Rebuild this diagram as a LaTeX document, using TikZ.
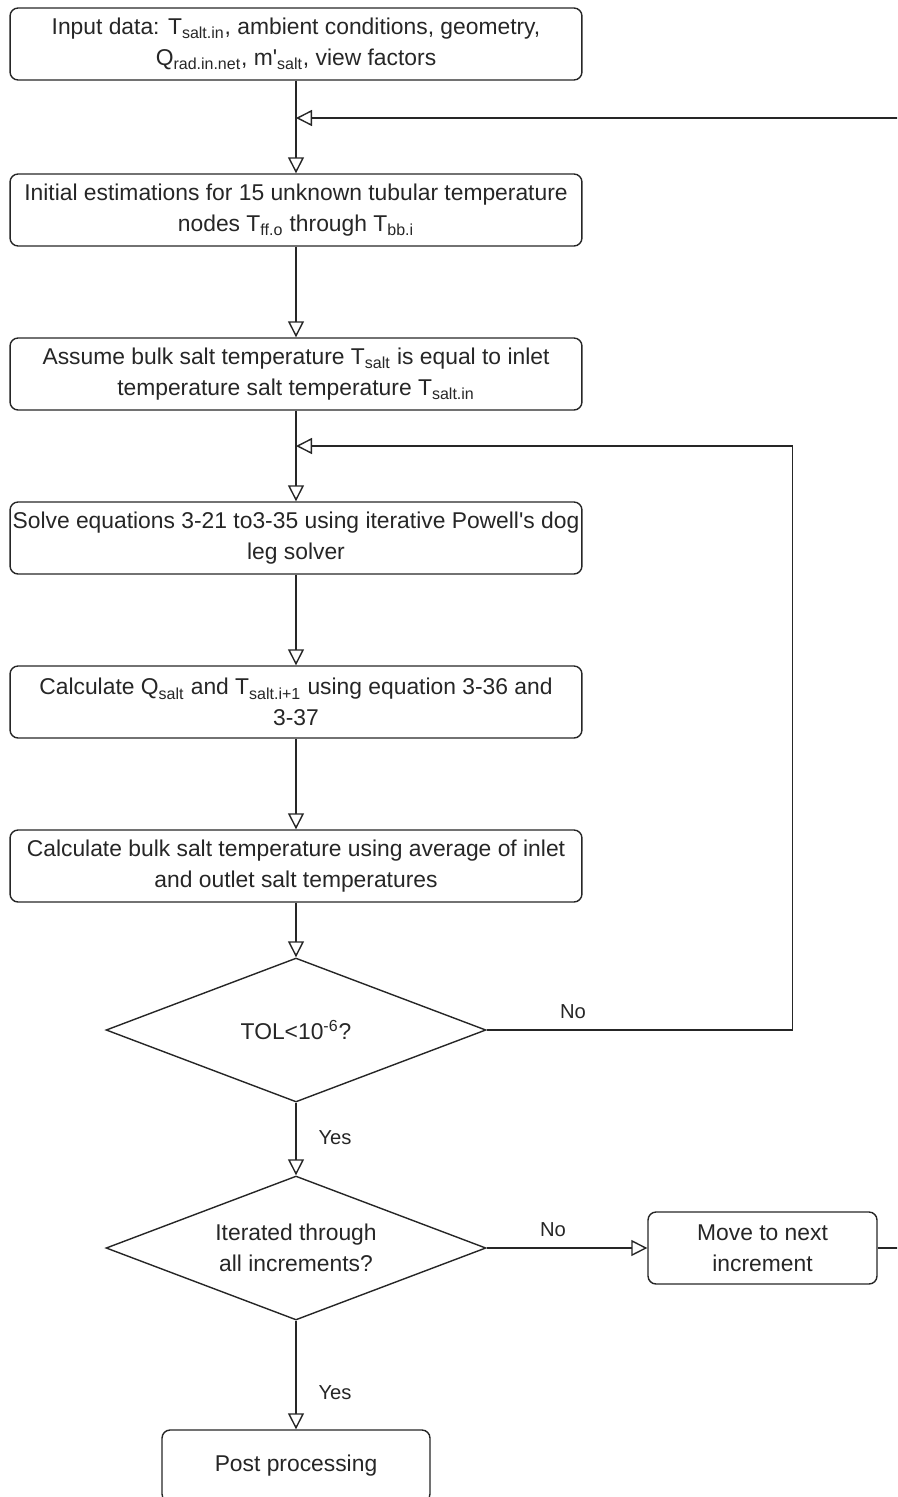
\documentclass[tikz,border=0pt]{standalone}
\usepackage{fontspec}
\setmainfont{Liberation Sans}
\usetikzlibrary{arrows.meta,shapes.geometric}

\begin{document}
\begin{tikzpicture}[x=0.02cm, y=-0.02cm,
	every node/.style={font=\fontsize{13}{17.6}\selectfont, text=black!85},
	box/.style={rectangle, rounded corners=0.16cm, draw=black!85, line width=0.8pt, minimum width=11.44cm, minimum height=1.44cm, inner sep=0pt, align=center},
	decision/.style={diamond, draw=black!85, line width=0.8pt, minimum width=7.6cm, minimum height=2.88cm, aspect=2.64, inner sep=0pt, align=center},
	answer/.style={font=\fontsize{11.5}{14}\selectfont},
	flow/.style={draw=black!85, line width=0.8pt, -{Triangle[open, length=0.32cm, width=0.32cm]}}]
			\useasboundingbox (0,0) rectangle (897,1497);
			\clip (0,0) rectangle (897,1497);
			
			\node[box] (input) at (296,44){Input data: T\textsubscript{salt.in}, ambient conditions, geometry,\\ Q\textsubscript{rad.in.net}, m\textquotesingle\textsubscript{salt}, view factors};
			\node[box] (init) at (296,210){Initial estimations for 15 unknown tubular temperature\\ nodes T\textsubscript{ff.o} through T\textsubscript{bb.i}};
			\node[box] (assume) at (296,374){Assume bulk salt temperature T\textsubscript{salt} is equal to inlet\\ temperature salt temperature T\textsubscript{salt.in}};
			\node[box] (solve) at (296,538){Solve equations 3-21 to3-35 using iterative Powell\textquotesingle s dog\\ leg solver};
			\node[box] (calc) at (296,702){Calculate Q\textsubscript{salt} and T\textsubscript{salt.i+1} using equation 3-36 and\\ 3-37};
			\node[box] (bulk) at (296,866){Calculate bulk salt temperature using average of inlet\\ and outlet salt temperatures};
			\node[decision] (tol) at (296,1030){TOL<10\textsuperscript{-6}?};
			\node[decision] (iter) at (296,1248){Iterated through\\ all increments?};
			\node[box, minimum width=4.58cm] (next) at (762.5,1248){Move to next\\ increment};
			\node[box, minimum width=5.36cm] (post) at (296,1466){Post processing};
			
			\node[answer] (no1) at (573,1012){No};
			\node[answer] (yes1) at (335,1138){Yes};
			\node[answer] (no2) at (553,1230){No};
			\node[answer] (yes2) at (335,1393){Yes};
			
			\coordinate (j1) at (296,118);
			\coordinate (j2) at (296,446);
			
			\draw[flow] (input) -- (init);
			\draw[flow] (init) -- (assume);
			\draw[flow] (assume) -- (solve);
			\draw[flow] (solve) -- (calc);
			\draw[flow] (calc) -- (bulk);
			\draw[flow] (bulk) -- (tol);
			\draw[flow] (tol) -- (iter);
			\draw[flow] (iter) -- (next);
			\draw[flow] (iter) -- (post);
			\draw[flow] (tol.east) -- ++(306,0) |- (j2);
			\draw[flow] (next.east) -- ++(25,0) |- (j1);
			\end{tikzpicture}
\end{document}
